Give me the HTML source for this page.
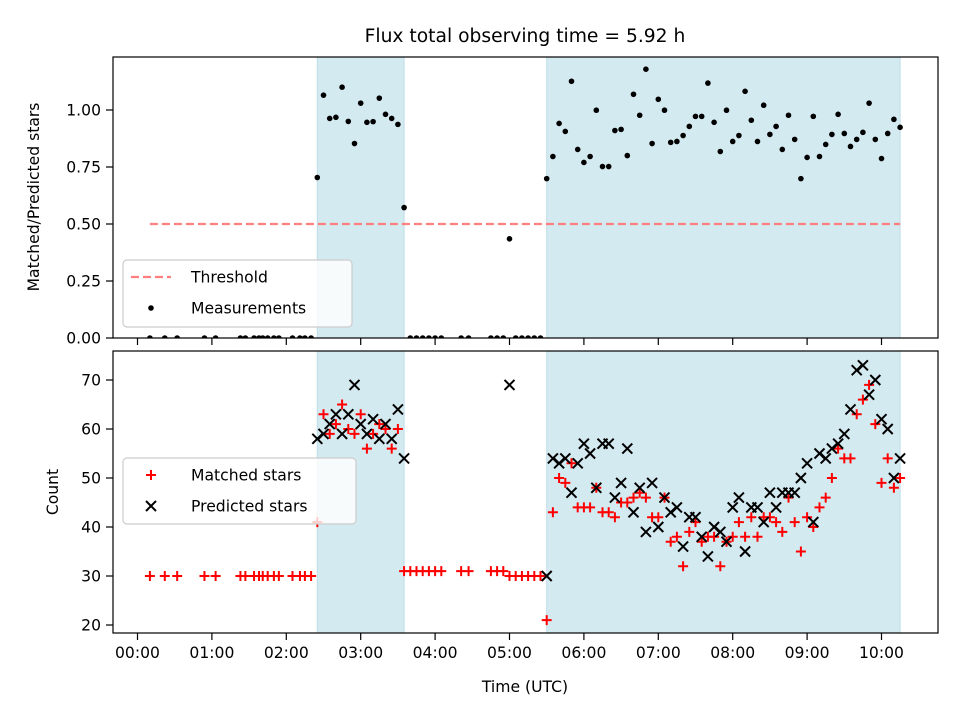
<!DOCTYPE html>
<html><head><meta charset="utf-8"><style>
html,body{margin:0;padding:0;background:#fff;}
svg{display:block;font-family:"DejaVu Sans","Liberation Sans",sans-serif;}
</style></head><body>
<svg id="chart" width="960" height="720" viewBox="0 0 960 720" xmlns="http://www.w3.org/2000/svg">
<defs>
<clipPath id="clipTop"><rect x="113" y="57" width="825" height="281"/></clipPath>
<clipPath id="clipBot"><rect x="113" y="351" width="825" height="282"/></clipPath>
</defs>
<text x="525" y="42" text-anchor="middle" font-size="18.7" fill="#000">Flux total observing time = 5.92 h</text>
<g id="topPanel"></g>
<g id="botPanel"></g>
<text x="525" y="692" text-anchor="middle" font-size="15.6">Time (UTC)</text>
<text transform="translate(39,197) rotate(-90)" text-anchor="middle" font-size="15.6">Matched/Predicted stars</text>
<text transform="translate(58,492) rotate(-90)" text-anchor="middle" font-size="15.6">Count</text>
</svg>
<script>
const times = ["0:10","0:22","0:32","0:54","1:03","1:23","1:27","1:34","1:38","1:41","1:45","1:50","1:54","2:05","2:11","2:15","2:20",
"2:25","2:30","2:35","2:40","2:45","2:50","2:55","3:00","3:05","3:10","3:15","3:20","3:25","3:30","3:35",
"3:40","3:45","3:50","3:55","4:00","4:05","4:21","4:27","4:45","4:50","4:55","5:00","5:05","5:10","5:15","5:20","5:25",
"5:30","5:35","5:40","5:45","5:50","5:55","6:00","6:05","6:10","6:15","6:20","6:25","6:30","6:35","6:40","6:45","6:50","6:55",
"7:00","7:05","7:10","7:15","7:20","7:25","7:30","7:35","7:40","7:45","7:50","7:55","8:00","8:05","8:10","8:15","8:20","8:25",
"8:30","8:35","8:40","8:45","8:50","8:55","9:00","9:05","9:10","9:15","9:20","9:25","9:30","9:35","9:40","9:45","9:50","9:55","10:00","10:05","10:10","10:15"];
const ratio = [0,0,0,0,0,0,0,0,0,0,0,0,0,0,0,0,0,
0.704,1.065,0.963,0.968,1.100,0.950,0.853,1.030,0.946,0.949,1.052,0.981,0.963,0.937,0.572,
0,0,0,0,0,0,0,0,0,0,0,0.435,0,0,0,0,0,
0.699,0.796,0.941,0.906,1.126,0.827,0.770,0.796,0.999,0.752,0.752,0.910,0.915,0.800,1.069,0.977,1.179,0.853,1.047,0.999,
0.858,0.862,0.888,0.928,0.972,0.972,1.118,0.946,0.818,0.999,0.862,0.888,1.082,0.955,0.862,1.021,0.893,0.928,0.827,0.977,
0.871,0.699,0.792,0.972,0.796,0.849,0.893,0.981,0.897,0.840,0.871,0.902,1.030,0.871,0.787,0.897,0.959,0.924];
const matched = [30,30,30,30,30,30,30,30,30,30,30,30,30,30,30,30,30,
41,63,59,61,65,60,59,63,56,59,61,60,56,60,31,
31,31,31,31,31,31,31,31,31,31,31,30,30,30,30,30,30,
21,43,50,49,53,44,44,44,48,43,43,42,45,45,46,47,46,42,42,46,
37,38,32,39,41,37,38,38,32,37,38,41,38,42,38,42,42,41,39,46,
41,35,42,40,44,46,50,56,54,54,63,66,69,61,49,54,48,50];
const predicted = [0,0,0,0,0,0,0,0,0,0,0,0,0,0,0,0,0,
58,59,61,63,59,63,69,61,59,62,58,61,58,64,54,
0,0,0,0,0,0,0,0,0,0,0,69,0,0,0,0,0,
30,54,53,54,47,53,57,55,48,57,57,46,49,56,43,48,39,49,40,46,
43,44,36,42,42,38,34,40,39,37,44,46,35,44,44,41,47,44,47,47,
47,50,53,41,55,54,56,57,59,64,72,73,67,70,62,60,50,54];
const shadeSpans = [["2:25","3:35"],["5:30","10:15"]];
const threshold = 0.5;
const thresholdRange = ["0:10","10:15"];
const xTickLabels = ["00:00","01:00","02:00","03:00","04:00","05:00","06:00","07:00","08:00","09:00","10:00"];
const topTickLabels = ["0.00","0.25","0.50","0.75","1.00"];
const botTickLabels = ["20","30","40","50","60","70"];

const NS="http://www.w3.org/2000/svg";
function hrs(s){const p=s.split(":");return +p[0]+(+p[1])/60;}
function X(h){return 137.5+h*74.4;}
function YT(v){return 338-v*228;}
function YB(v){return 625-(v-20)*4.9;}
function mk(parent,tag,attrs){const e=document.createElementNS(NS,tag);for(const k in attrs)e.setAttribute(k,attrs[k]);parent.appendChild(e);return e;}

const topG=document.getElementById('topPanel'), botG=document.getElementById('botPanel');
function panel(g,y0,y1,clip,yFn,ticks,isBottom){
  const bg=mk(g,'g',{'clip-path':'url(#'+clip+')'});
  shadeSpans.forEach(s=>{
    const r=mk(bg,'rect',{x:X(hrs(s[0])),y:y0,width:X(hrs(s[1]))-X(hrs(s[0])),height:y1-y0,fill:'#d4eaf1',stroke:'#bfdde8','stroke-width':1});
    
    
  });
  xTickLabels.forEach((l,i)=>{
    const t=mk(g,'line',{x1:X(i),x2:X(i),y1:y1,y2:y1+7,stroke:'#000','stroke-width':1.2});
    
    
    if(isBottom){
      const tx=mk(g,'text',{x:X(i),y:y1+25,'text-anchor':'middle','font-size':15.6});
      tx.textContent=l;
      
      
    }
  });
  ticks.forEach(l=>{
    const y=yFn(+l);
    const t=mk(g,'line',{x1:106,x2:113,y1:y,y2:y,stroke:'#000','stroke-width':1.2});
    
    
    const tx=mk(g,'text',{x:101,y:y+5.5,'text-anchor':'end','font-size':15.6});
    tx.textContent=l;
    
    
  });
  return bg;
}
const tg=panel(topG,57,338,'clipTop',YT,topTickLabels,false);
const th=mk(tg,'line',{x1:X(hrs(thresholdRange[0])),x2:X(hrs(thresholdRange[1])),y1:YT(threshold),y2:YT(threshold),stroke:'#ff7f7f','stroke-width':2.2,'stroke-dasharray':'8,4'});


times.forEach((t,i)=>{
  const c=mk(tg,'circle',{cx:X(hrs(t)),cy:YT(ratio[i]),r:2.8,fill:'#000'});
  
  
});
const bgG=panel(botG,351,633,'clipBot',YB,botTickLabels,true);
times.forEach((t,i)=>{
  const x=X(hrs(t)),y=YB(matched[i]);
  const p=mk(bgG,'path',{d:`M${x-5},${y}H${x+5}M${x},${y-5}V${y+5}`,stroke:'#ff0000','stroke-width':2,fill:'none'});
  
  
});
times.forEach((t,i)=>{
  const x=X(hrs(t)),y=YB(predicted[i]);
  const p=mk(bgG,'path',{d:`M${x-5},${y-5}L${x+5},${y+5}M${x-5},${y+5}L${x+5},${y-5}`,stroke:'#000','stroke-width':2,fill:'none'});
  
  
});
[[topG,57,338],[botG,351,633]].forEach(a=>{
  const r=mk(a[0],'rect',{x:113,y:a[1],width:825,height:a[2]-a[1],fill:'none',stroke:'#000','stroke-width':1.2});
  
  
});
function legend(g,y,h,w,entries){
  const lg=mk(g,'g',{});
  
  
  mk(lg,'rect',{x:123,y:y,width:w,height:h,rx:4,fill:'#fff','fill-opacity':0.8,stroke:'#cccccc','stroke-width':1.2});
  entries.forEach((e,i)=>{
    const ey=y+17+i*31;
    const eg=mk(lg,'g',{});
    
    
    if(e[0]==='dash') mk(eg,'line',{x1:131,x2:171,y1:ey,y2:ey,stroke:'#ff7f7f','stroke-width':2.2,'stroke-dasharray':'8,4'});
    if(e[0]==='dot') mk(eg,'circle',{cx:151,cy:ey,r:2.8,fill:'#000'});
    if(e[0]==='plus') mk(eg,'path',{d:`M146,${ey}H156M151,${ey-5}V${ey+5}`,stroke:'#f00','stroke-width':2});
    if(e[0]==='x') mk(eg,'path',{d:`M146,${ey-5}L156,${ey+5}M146,${ey+5}L156,${ey-5}`,stroke:'#000','stroke-width':2});
    const t=mk(eg,'text',{x:191,y:ey+5.5,'font-size':15.6});
    t.textContent=e[1];
  });
}
legend(topG,260,67,229,[['dash','Threshold'],['dot','Measurements']]);
legend(botG,458,66,233,[['plus','Matched stars'],['x','Predicted stars']]);
</script>
</body></html>
